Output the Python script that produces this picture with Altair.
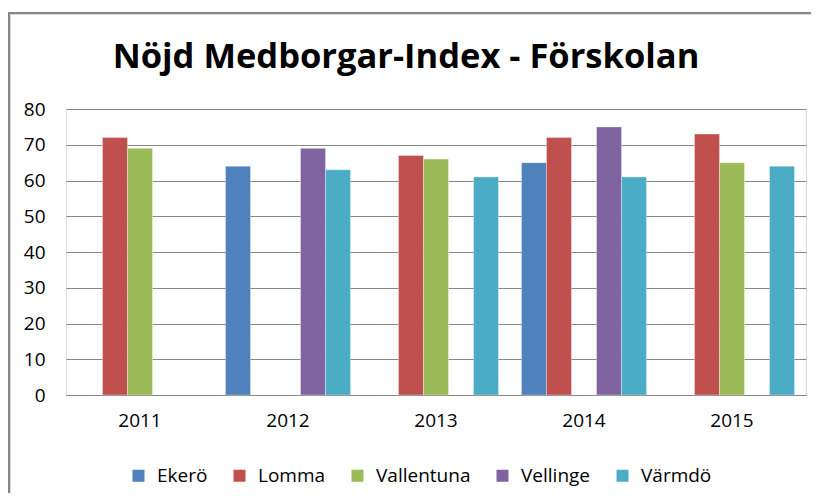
import altair as alt
import pandas as pd

years = ["2011", "2012", "2013", "2014", "2015"]
series = ["Ekerö", "Lomma", "Vallentuna", "Vellinge", "Värmdö"]
colors = ["#4F81BD", "#C0504D", "#9BBB59", "#8064A2", "#4BACC6"]
title_text = "Nöjd Medborgar-Index - Förskolan"
# None = no bar that year
values = {
    "Ekerö":      [None, 64, None, 65, None],
    "Lomma":      [72, None, 67, 72, 73],
    "Vallentuna": [69, None, 66, None, 65],
    "Vellinge":   [None, 69, None, 75, None],
    "Värmdö":     [None, 63, 61, 61, 64],
}

rows = []
for s in series:
    for y, v in zip(years, values[s]):
        if v is not None:
            rows.append({"År": y, "Kommun": s, "Index": v})
df = pd.DataFrame(rows)

FONT = "Open Sans"

bars = alt.Chart(df).mark_bar(stroke="white", strokeOpacity=0.35, strokeWidth=1).encode(
    x=alt.X("År:N", sort=years, title=None,
            scale=alt.Scale(domain=years, paddingInner=0.155, paddingOuter=0.0775),
            axis=alt.Axis(labelAngle=0, ticks=False, domain=True, domainColor="#868686",
                          labelFont=FONT, labelFontSize=19, labelColor="#000000",
                          labelPadding=16, grid=False)),
    xOffset=alt.XOffset("Kommun:N", scale=alt.Scale(domain=series, paddingInner=0, paddingOuter=0)),
    y=alt.Y("Index:Q", title=None,
            scale=alt.Scale(domain=[0, 80], nice=False),
            axis=alt.Axis(values=list(range(0, 81, 10)), ticks=False, domain=False,
                          gridColor="#868686", gridWidth=1,
                          labelFont=FONT, labelFontSize=19, labelColor="#000000",
                          labelPadding=21)),
    color=alt.Color("Kommun:N", sort=series,
                    scale=alt.Scale(domain=series, range=colors),
                    legend=alt.Legend(title=None, orient="none", direction="horizontal",
                                      legendX=63, legendY=357, symbolType="square",
                                      symbolSize=144, symbolStrokeWidth=0,
                                      labelFont=FONT, labelFontSize=19, labelColor="#000000",
                                      labelOffset=9, columnPadding=22, padding=0)),
)

one = pd.DataFrame({"t": [title_text]})
title = alt.Chart(one).mark_text(font=FONT, fontSize=34.5, fontWeight="bold", color="#000000",
                                 align="center", baseline="middle").encode(
    text="t:N", x=alt.value(340), y=alt.value(-51))

frame_left = alt.Chart(one).mark_rule(color="#868686", strokeWidth=2).encode(
    x=alt.value(-57), y=alt.value(-96), y2=alt.value(400))
frame_top = alt.Chart(one).mark_rule(color="#868686", strokeWidth=2).encode(
    x=alt.value(-58), x2=alt.value(770), y=alt.value(-96))
shadow_left = alt.Chart(one).mark_rule(color="#d9d9d9", strokeWidth=1).encode(
    x=alt.value(-55.5), y=alt.value(-94.5), y2=alt.value(400))
shadow_top = alt.Chart(one).mark_rule(color="#d9d9d9", strokeWidth=1).encode(
    x=alt.value(-55.5), x2=alt.value(770), y=alt.value(-94.5))

chart = alt.layer(shadow_left, shadow_top, frame_left, frame_top, bars, title).properties(
    width=740, height=286,
    autosize=alt.AutoSizeParams(type="none"),
    padding={"left": 58, "top": 101, "right": 5, "bottom": 98},
).configure_view(stroke=None).configure(background="white")

chart.save("out.html", embed_options={"renderer": "svg", "actions": False})
